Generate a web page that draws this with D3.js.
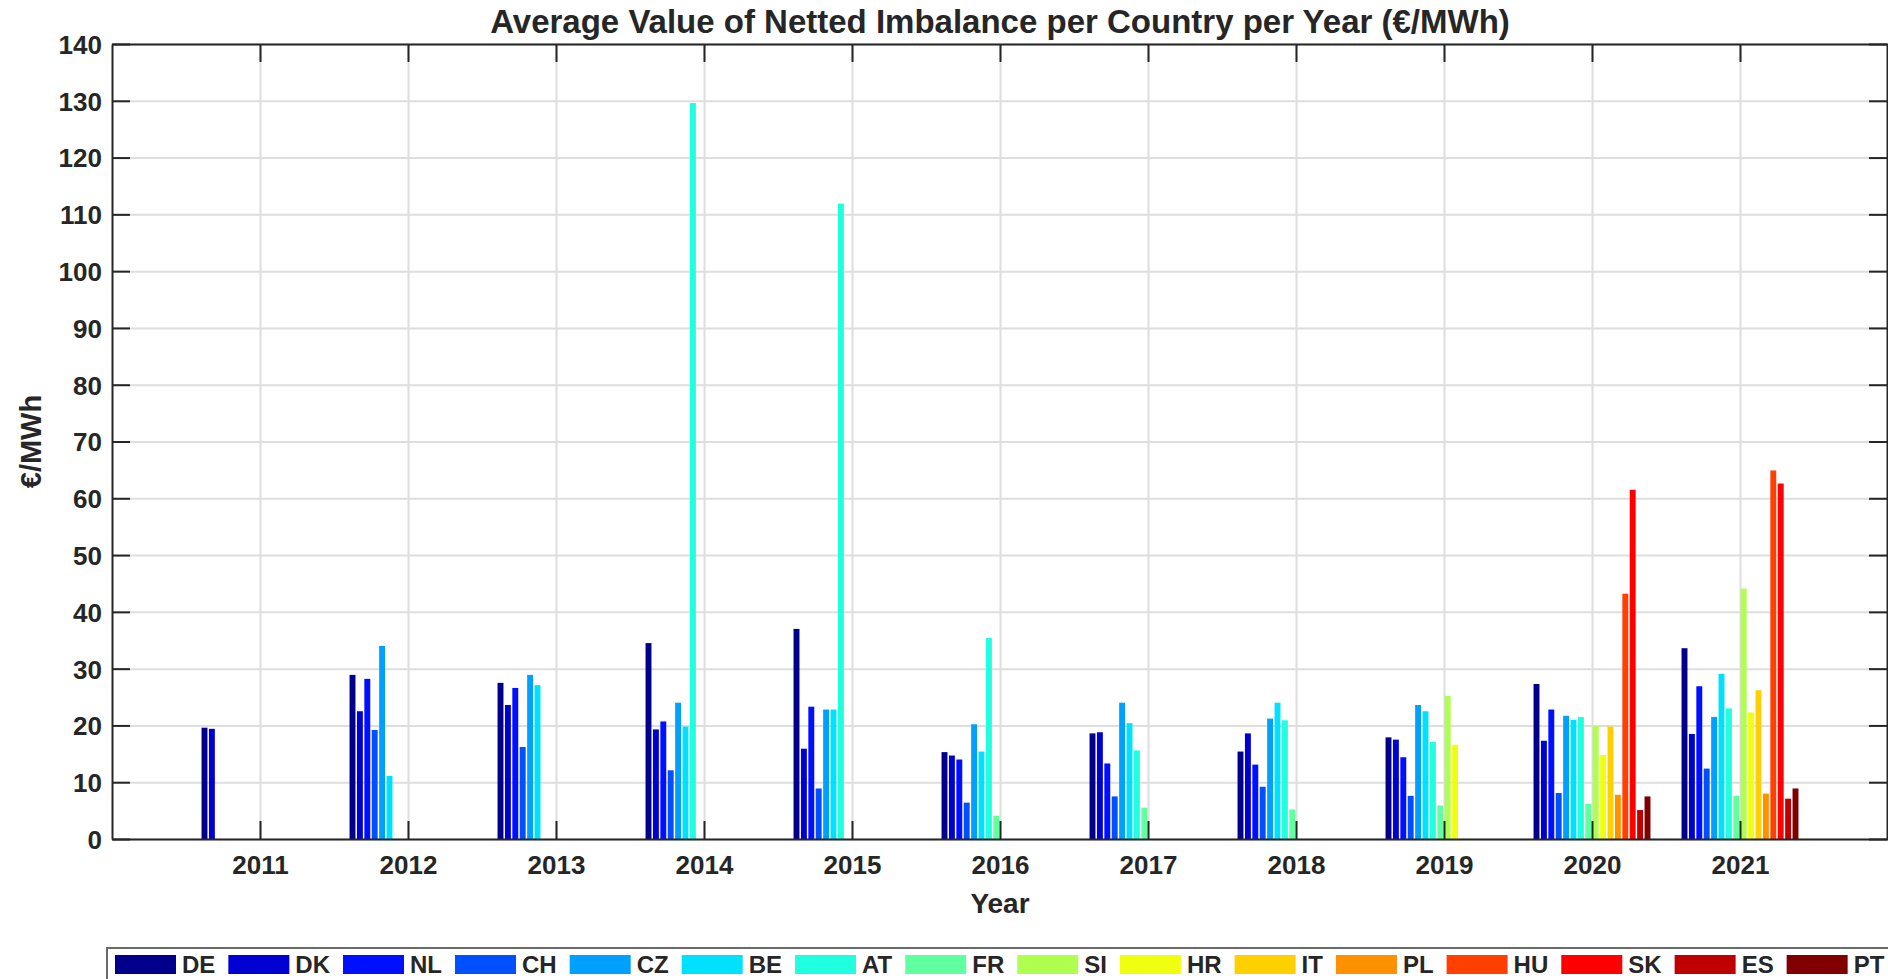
<!DOCTYPE html>
<html>
<head>
<meta charset="utf-8">
<script src="https://cdn.jsdelivr.net/npm/d3@7"></script>
<style>
	body { margin: 0; background: #fff; }
	text { font-family: "Liberation Sans", Arial, sans-serif; font-weight: bold; fill: #262626; }
</style>
</head>
<body>
<div id="chart"></div>
<script>
// years on the x axis
const years = [2011, 2012, 2013, 2014, 2015, 2016, 2017, 2018, 2019, 2020, 2021];
const yTicks = [0, 10, 20, 30, 40, 50, 60, 70, 80, 90, 100, 110, 120, 130, 140];
const countries = ['DE', 'DK', 'NL', 'CH', 'CZ', 'BE', 'AT', 'FR', 'SI', 'HR', 'IT', 'PL', 'HU', 'SK', 'ES', 'PT'];
const colors = ['#00008b', '#0000d2', '#0010ff', '#0050ff', '#00a0ff', '#00e0ff', '#20ffe0', '#60ffa0',
	'#b0ff50', '#f0ff10', '#ffd000', '#ff9000', '#ff4000', '#ff0000', '#c00000', '#800000'];

// average netted imbalance value, €/MWh (null = no data that year)
const DE = [19.6, 28.9, 27.5, 34.5, 37.0, 15.3, 18.6, 15.4, 17.9, 27.3, 33.6];
const DK = [19.4, 22.5, 23.6, 19.3, 15.9, 14.7, 18.8, 18.6, 17.5, 17.3, 18.5];
const NL = [null, 28.2, 26.6, 20.7, 23.3, 14.0, 13.3, 13.1, 14.4, 22.8, 26.9];
const CH = [null, 19.2, 16.2, 12.1, 8.9, 6.4, 7.5, 9.2, 7.6, 8.1, 12.4];
const CZ = [null, 34.0, 28.9, 24.0, 22.8, 20.2, 24.0, 21.2, 23.6, 21.7, 21.5];
const BE = [null, 11.1, 27.1, 19.8, 22.8, 15.4, 20.4, 24.0, 22.5, 21.0, 29.1];
const AT = [null, null, null, 129.6, 111.9, 35.4, 15.6, 20.9, 17.1, 21.5, 23.0];
const FR = [null, null, null, null, null, 4.1, 5.5, 5.2, 5.9, 6.2, 7.6];
const SI = [null, null, null, null, null, null, null, null, 25.2, 19.9, 44.1];
const HR = [null, null, null, null, null, null, null, null, 16.6, 14.8, 22.3];
const IT = [null, null, null, null, null, null, null, null, null, 19.8, 26.2];
const PL = [null, null, null, null, null, null, null, null, null, 7.8, 8.0];
const HU = [null, null, null, null, null, null, null, null, null, 43.2, 64.9];
const SK = [null, null, null, null, null, null, null, null, null, 61.5, 62.6];
const ES = [null, null, null, null, null, null, null, null, null, 5.1, 7.1];
const PT = [null, null, null, null, null, null, null, null, null, 7.5, 8.9];

const series = [DE, DK, NL, CH, CZ, BE, AT, FR, SI, HR, IT, PL, HU, SK, ES, PT];

(() => {
	const W = 1888;
	const H = 979;
	const margin = { top: 44, right: 0, bottom: 140, left: 112 };
	const width = W - margin.left - margin.right;
	const height = H - margin.top - margin.bottom;
	const tickLen = 18;
	const axisColor = '#262626';

	const svg = d3.select('#chart').append('svg')
		.attr('width', W)
		.attr('height', H);
	const chart = svg.append('g')
		.attr('transform', `translate(${margin.left}, ${margin.top})`);

	// scales
	const x = d3.scaleLinear()
		.domain([2010, 2022])
		.range([0, width]);
	const y = d3.scaleLinear()
		.domain([0, 140])
		.range([height, 0]);
	const inner = d3.scaleBand()
		.domain(countries)
		.range([-0.4, 0.4])
		.paddingInner(0.2)
		.paddingOuter(0.1);
	const pxPerYear = x(1) - x(0);

	/* --------- grid --------- */
	chart.append('g')
		.attr('class', 'grid')
		.call(d3.axisLeft(y).tickValues(yTicks).tickSize(-width).tickFormat(''))
		.call(g => g.select('.domain').remove());
	chart.append('g')
		.attr('class', 'grid')
		.attr('transform', `translate(0, ${height})`)
		.call(d3.axisBottom(x).tickValues(years).tickSize(-height).tickFormat(''))
		.call(g => g.select('.domain').remove());
	chart.selectAll('.grid line')
		.attr('stroke', '#dedede')
		.attr('stroke-width', 2);

	/* --------- bars --------- */
	const bars = [];
	series.forEach((vals, si) => {
		vals.forEach((v, yi) => {
			if (v !== null) bars.push({ country: countries[si], year: years[yi], value: v, color: colors[si] });
		});
	});
	chart.append('g')
		.attr('class', 'bars')
		.selectAll('rect')
			.data(bars)
			.enter().append('rect')
				.attr('x', d => x(d.year + inner(d.country)))
				.attr('width', inner.bandwidth() * pxPerYear)
				.attr('y', d => y(d.value))
				.attr('height', d => y(0) - y(d.value))
				.attr('fill', d => d.color);

	/* --------- axes (box with inward ticks) --------- */
	const fontSize = 26;
	const xAxis = chart.append('g')
		.attr('transform', `translate(0, ${height})`)
		.call(d3.axisBottom(x).tickValues(years).tickFormat(d3.format('d'))
			.tickSizeInner(-tickLen).tickSizeOuter(0).tickPadding(14));
	const yAxis = chart.append('g')
		.call(d3.axisLeft(y).tickValues(yTicks)
			.tickSizeInner(-tickLen).tickSizeOuter(0).tickPadding(10));
	const topAxis = chart.append('g')
		.call(d3.axisTop(x).tickValues(years).tickFormat('')
			.tickSizeInner(-tickLen).tickSizeOuter(0));
	const rightAxis = chart.append('g')
		.attr('transform', `translate(${width - 1}, 0)`)
		.call(d3.axisRight(y).tickValues(yTicks).tickFormat('')
			.tickSizeInner(-tickLen).tickSizeOuter(0));
	[xAxis, yAxis, topAxis, rightAxis].forEach(a => {
		a.selectAll('.domain, line')
			.attr('stroke', axisColor)
			.attr('stroke-width', 2);
		a.selectAll('text')
			.attr('font-size', fontSize)
			.attr('fill', axisColor)
			.style('font-family', '"Liberation Sans", Arial, sans-serif')
			.style('font-weight', 'bold');
	});
	xAxis.selectAll('text').attr('dy', '0.82em');
	yAxis.selectAll('text').attr('dy', '0.36em');

	/* --------- labels --------- */
	svg.append('text')
		.attr('x', margin.left + width / 2)
		.attr('y', 33)
		.attr('text-anchor', 'middle')
		.attr('font-size', 33)
		.attr('fill', '#000')
		.text('Average Value of Netted Imbalance per Country per Year (€/MWh)');
	svg.append('text')
		.attr('x', margin.left + width / 2)
		.attr('y', 913)
		.attr('text-anchor', 'middle')
		.attr('font-size', 28)
		.text('Year');
	svg.append('text')
		.attr('transform', `translate(41, ${margin.top + height / 2}) rotate(-90)`)
		.attr('text-anchor', 'middle')
		.attr('font-size', 29)
		.text('€/MWh');

	/* --------- legend --------- */
	const legend = svg.append('g')
		.attr('class', 'legend');
	legend.append('rect')
		.attr('x', 107)
		.attr('y', 948)
		.attr('width', W)
		.attr('height', 60)
		.attr('fill', '#fff')
		.attr('stroke', '#6a6a6a')
		.attr('stroke-width', 2);
	const swW = 61;
	const swH = 19;
	let lx = 115;
	countries.forEach((c, i) => {
		legend.append('rect')
			.attr('x', lx)
			.attr('y', 955)
			.attr('width', swW)
			.attr('height', swH)
			.attr('fill', colors[i]);
		const t = legend.append('text')
			.attr('x', lx + swW + 6)
			.attr('y', 973)
			.attr('font-size', 24)
			.attr('fill', '#000')
			.text(c);
		lx += swW + 6 + t.node().getComputedTextLength() + 13;
	});
})();
</script>
</body>
</html>
